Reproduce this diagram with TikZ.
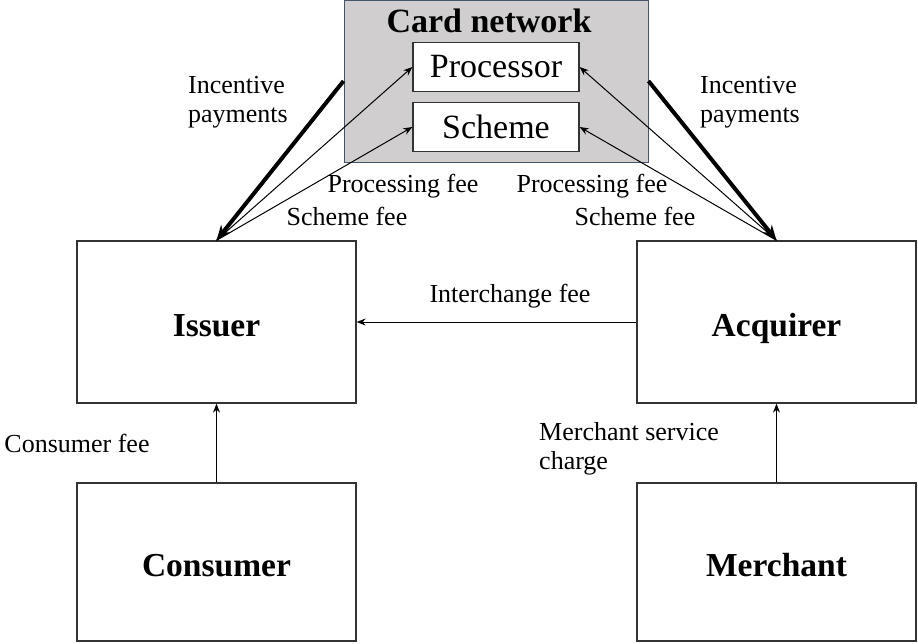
\documentclass[tikz,border=0pt]{standalone}
\usepackage{fontspec}
\setmainfont{Liberation Serif}
\usetikzlibrary{arrows.meta}
\definecolor{netgray}{RGB}{208,206,206}
\definecolor{netedge}{RGB}{68,84,106}
\tikzset{
  party/.style={draw=black!80, line width=1.3pt, minimum width=279pt, minimum height=162pt, text height=32pt, text depth=4pt, font=\fontsize{33.5}{38}\selectfont\bfseries},
  unit/.style={draw=black!80, fill=white, line width=1.3pt, minimum width=166pt, minimum height=49pt, font=\fontsize{34}{38}\selectfont},
  fee/.style={font=\fontsize{26}{29}\selectfont, align=left, inner sep=0pt},
  feeline/.style={line width=1pt, -{Stealth[length=9pt,width=7pt]}},
  payline/.style={line width=4pt, -{Stealth[length=15pt,width=12pt]}}
}
\begin{document}
\begin{tikzpicture}[x=1pt, y=-1pt]
    \useasboundingbox (0,0) rectangle (918,643);

    \node [draw=netedge, fill=netgray, line width=1pt, minimum width=304pt, minimum height=162pt] (cn) at (496,81) {};
    \node [font=\fontsize{34}{38}\selectfont\bfseries] (cntitle) at (489,21) {Card network};
    \node [unit] (proc) at (496,67) {Processor};
    \node [unit] (sch) at (496,127) {Scheme};

    \node [party] (iss) at (216.5,322) {Issuer};
    \node [party] (acq) at (776.5,322) {Acquirer};
    \node [party, minimum height=158pt] (con) at (216.5,562) {Consumer};
    \node [party, minimum height=158pt] (mer) at (776.5,562) {Merchant};

    \draw [payline] (cn.west) -- (iss.north);
    \draw [feeline] (iss.north) -- (proc.west);
    \draw [feeline] (iss.north) -- (sch.west);
    \draw [payline] (cn.east) -- (acq.north);
    \draw [feeline] (acq.north) -- (proc.east);
    \draw [feeline] (acq.north) -- (sch.east);
    \draw [feeline] (acq.west) -- (iss.east);
    \draw [feeline] (con.north) -- (iss.south);
    \draw [feeline] (mer.north) -- (acq.south);

    \node [fee] (payl) at (238,102) {Incentive\\payments};
    \node [fee] (payr) at (750,102) {Incentive\\payments};
    \node [fee] (procl) at (403,186) {Processing fee};
    \node [fee] (schl) at (347,216) {Scheme fee};
    \node [fee] (procr) at (592,186) {Processing fee};
    \node [fee] (schr) at (635,216) {Scheme fee};
    \node [fee] (inter) at (510,296) {Interchange fee};
    \node [fee] (conf) at (77,443) {Consumer fee};
    \node [fee, anchor=west] (merf) at (539,449) {Merchant service\\charge};
\end{tikzpicture}
\end{document}
